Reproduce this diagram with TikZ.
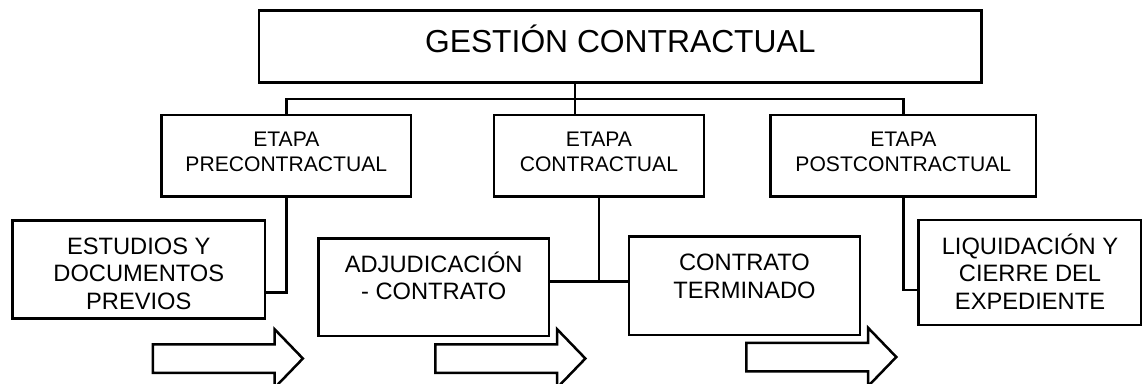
\documentclass[tikz,border=0pt]{standalone}
\usepackage{fontspec}
\setmainfont{Liberation Sans}
\usetikzlibrary{shapes.arrows}

\begin{document}
\begin{tikzpicture}[x=1pt, y=-1pt,
  box/.style={draw=black, line width=2.5pt, inner sep=0pt, align=center, text depth=0pt},
  titlebox/.style={box, font=\fontsize{31.8}{38}\selectfont, text height=23pt, text depth=12pt},
  stagebox/.style={box, minimum height=81.7pt, font=\fontsize{21.1}{25}\selectfont, text height=31.8pt},
  taskbox/.style={box, font=\fontsize{23.7}{27.5}\selectfont},
  flow/.style={single arrow, draw=black, line width=2.5pt, inner xsep=0pt, inner ysep=13pt,
    minimum height=150pt, single arrow head extend=15pt, single arrow tip angle=92},
  link/.style={draw=black, line width=2.5pt}]
\clip (0,0) rectangle (1142,383);
\node[titlebox, minimum width=722.7pt, minimum height=72.4pt] (gestion) at (620.3,46.5) {GESTIÓN CONTRACTUAL};
\node[stagebox, minimum width=249.3pt] (pre) at (286.3,155.8) {ETAPA\\PRECONTRACTUAL};
\node[stagebox, minimum width=209.7pt] (con) at (598.9,155.8) {ETAPA\\CONTRACTUAL};
\node[stagebox, minimum width=265.3pt] (post) at (903.3,155.8) {ETAPA\\POSTCONTRACTUAL};
\node[taskbox, minimum width=252.3pt, minimum height=98pt, text height=78.6pt] (estudios) at (138.8,269.7) {ESTUDIOS Y\\DOCUMENTOS\\PREVIOS};
\node[taskbox, minimum width=230.7pt, minimum height=97.7pt, text height=24.6pt] (adj) at (433.7,287.2) {ADJUDICACIÓN\\- CONTRATO};
\node[taskbox, minimum width=231pt, minimum height=98.3pt, text height=25pt] (contrato) at (744.5,285.8) {CONTRATO\\TERMINADO};
\node[taskbox, minimum width=223.4pt, minimum height=105pt, text height=73pt] (liq) at (1030,272.5) {LIQUIDACIÓN Y\\CIERRE DEL\\EXPEDIENTE};
\node[flow] (paso1) at (221,358.5) {};
\node[flow] (paso2) at (503.5,358.5) {};
\node[flow] (paso3) at (814.4,357) {};
\coordinate (bus) at (575,99);
\coordinate (prejoin) at (286.3,292.3);
\coordinate (conjoin) at (598.9,281.7);
\coordinate (postjoin) at (903.3,290);
\path[link] (gestion.south -| bus) -- (bus);
\path[link] (pre.north) |- (bus) -| (post.north);
\path[link] (bus) -- (bus |- con.north);
\path[link] (pre.south) -- (prejoin) -- (prejoin -| estudios.east);
\path[link] (con.south) -- (conjoin);
\path[link] (adj.east |- conjoin) -- (contrato.west |- conjoin);
\path[link] (post.south) -- (postjoin) -- (postjoin -| liq.west);
\end{tikzpicture}
\end{document}
